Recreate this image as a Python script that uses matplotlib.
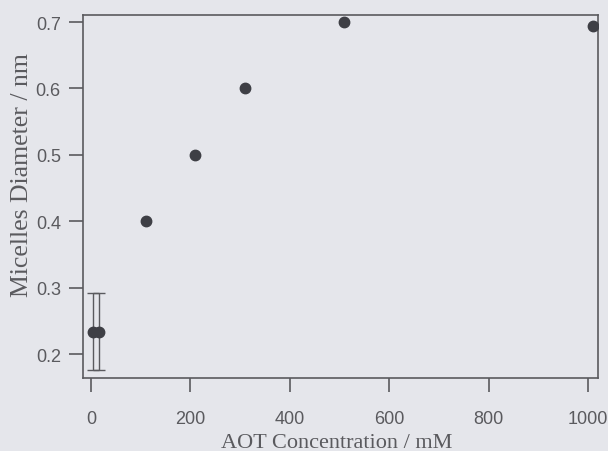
import matplotlib
matplotlib.use('Agg')
import matplotlib.pyplot as plt
import matplotlib.ticker as ticker

# AOT concentration (mM) vs micelle diameter (nm)
conc = [4, 16, 110, 210, 310, 510, 1010]
diam = [0.234, 0.234, 0.40, 0.50, 0.60, 0.70, 0.694]

# error bars only on the two lowest-concentration points
err_conc = [4, 16]
err_diam = [0.234, 0.234]
err_size = [0.058, 0.058]

x_ticks = [0, 200, 400, 600, 800, 1000]
y_ticks = [0.2, 0.3, 0.4, 0.5, 0.6, 0.7]

paper = '#e5e6eb'
ink = '#5a5a5e'
dot = '#3e3f45'

fig = plt.figure(figsize=(6.08, 4.52), dpi=100, facecolor=paper)
ax = fig.add_axes([0.1365, 0.1615, 0.847, 0.803])
ax.set_facecolor(paper)

ax.errorbar(err_conc, err_diam, yerr=err_size, fmt='none', ecolor=ink,
            elinewidth=1.0, capsize=4.5, capthick=1.0, zorder=2)
ax.plot(conc, diam, 'o', color=dot, markersize=7.5, zorder=3)

ax.set_xlim(-16, 1020)
ax.set_ylim(0.164, 0.7105)
ax.xaxis.set_major_locator(ticker.FixedLocator(x_ticks))
ax.yaxis.set_major_locator(ticker.FixedLocator(y_ticks))
ax.yaxis.set_major_formatter(ticker.FormatStrFormatter('%.1f'))

for s in ax.spines.values():
    s.set_color(ink)
    s.set_linewidth(1.2)

ax.tick_params(axis='both', direction='out', length=10, width=1.2, color=ink,
               labelcolor=ink, labelsize=13)
ax.tick_params(axis='y', pad=6)
ax.tick_params(axis='x', pad=13)
for lab in ax.get_xticklabels() + ax.get_yticklabels():
    lab.set_family('Liberation Sans')

ax.set_xlabel('AOT Concentration / mM', family='Liberation Serif', fontsize=16, color=ink)
ax.set_ylabel('Micelles Diameter / nm', family='Liberation Serif', fontsize=18.5, color=ink)
ax.xaxis.set_label_coords(0.492, -0.152)
ax.yaxis.set_label_coords(-0.097, 0.562)

fig.savefig('out.png', dpi=100, facecolor=paper)
